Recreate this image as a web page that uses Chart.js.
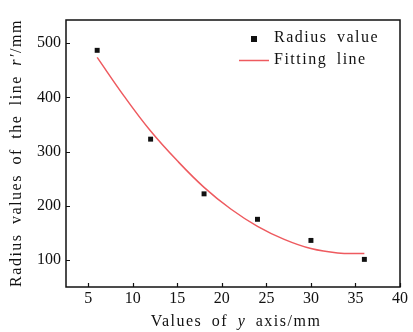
<!DOCTYPE html>
<html>
<head>
<meta charset="utf-8">
<script src="https://cdn.jsdelivr.net/npm/chart.js@4/dist/chart.umd.min.js"></script>
<style>
  html, body { margin: 0; padding: 0; background: #fff; }
  #wrap { width: 413px; height: 332px; }
</style>
</head>
<body>
<div id="wrap"><canvas id="chart"></canvas></div>
<script>
// ── Data ─────────────────────────────────────────────────────────────────────
const radiusX = [6, 12, 18, 24, 30, 36];
const radiusY = [487, 323, 222, 175, 136, 101];

const fitX = [6, 9, 12, 15, 18, 21, 24, 27, 30, 33, 36];
const fitY = [474, 403, 338, 283, 234, 194, 162, 138, 121, 113, 112];

const xTicks = [5, 10, 15, 20, 25, 30, 35, 40];
const yTicks = [100, 200, 300, 400, 500];

const FONT = '"Liberation Serif", "DejaVu Serif", serif';

// draws box, inward ticks, axis titles (mixed italic) and legend
const decor = {
  id: 'decor',
  afterDraw(chart) {
    const { ctx, chartArea: a, scales: { x, y } } = chart;
    ctx.save();
    ctx.strokeStyle = '#111';
    ctx.lineWidth = 1.5;
    ctx.strokeRect(a.left, a.top, a.right - a.left, a.bottom - a.top);

    ctx.lineWidth = 1.2;
    ctx.beginPath();
    xTicks.forEach(v => {
      const px = Math.round(x.getPixelForValue(v)) + 0.5;
      ctx.moveTo(px, a.bottom); ctx.lineTo(px, a.bottom - 4);
    });
    yTicks.forEach(v => {
      const py = Math.round(y.getPixelForValue(v)) + 0.5;
      ctx.moveTo(a.left, py); ctx.lineTo(a.left + 4, py);
    });
    ctx.stroke();

    ctx.letterSpacing = '1.5px';
    ctx.wordSpacing = '4px';

    // mixed-style text helper
    function drawParts(parts, cx, cy, align) {
      ctx.textBaseline = 'middle';
      ctx.textAlign = 'left';
      const w = parts.reduce((s, [t, it]) => {
        ctx.font = `${it ? 'italic ' : ''}16px ${FONT}`;
        return s + ctx.measureText(t).width;
      }, 0);
      let cur = align === 'left' ? cx : cx - w / 2;
      parts.forEach(([t, it]) => {
        ctx.font = `${it ? 'italic ' : ''}16px ${FONT}`;
        ctx.fillText(t, cur, cy);
        cur += ctx.measureText(t).width;
      });
    }

    ctx.fillStyle = '#111';
    drawParts([['Values of ', false], ['y', true], [' axis/mm', false]], 236, 322);

    ctx.save();
    ctx.translate(17, 153);
    ctx.rotate(-Math.PI / 2);
    drawParts([['Radius values of the line ', false], ['r\u2032', true], ['/mm', false]], 0, 0);
    ctx.restore();

    // legend
    const ds = chart.data.datasets;
    ctx.fillStyle = '#111';
    ctx.fillRect(251, 36, 6, 6);
    drawParts([[ds[0].label, false]], 274, 38, 'left');
    ctx.strokeStyle = ds[1].borderColor;
    ctx.lineWidth = 1.5;
    ctx.beginPath();
    ctx.moveTo(239, 60.5); ctx.lineTo(269, 60.5);
    ctx.stroke();
    drawParts([[ds[1].label, false]], 274, 60, 'left');
    ctx.restore();
  }
};

new Chart(document.getElementById('chart'), {
  type: 'scatter',
  data: {
    datasets: [
      {
        label: 'Radius value',
        data: radiusX.map((v, i) => ({ x: v, y: radiusY[i] })),
        pointStyle: 'rect',
        pointRadius: 3.5,
        backgroundColor: '#111',
        borderColor: '#111',
        borderWidth: 0,
        order: 1,
      },
      {
        label: 'Fitting line',
        data: fitX.map((v, i) => ({ x: v, y: fitY[i] })),
        showLine: true,
        borderColor: '#ee5a5f',
        borderWidth: 1.5,
        pointRadius: 0,
        tension: 0.4,
        fill: false,
        order: 2,
      },
    ],
  },
  options: {
    responsive: true,
    maintainAspectRatio: false,
    animation: false,
    layout: { padding: { top: 20, right: 13, left: 0, bottom: 0 } },
    plugins: { legend: { display: false }, tooltip: { enabled: false } },
    scales: {
      x: {
        type: 'linear',
        min: 2.5,
        max: 40,
        afterBuildTicks: s => { s.ticks = xTicks.map(v => ({ value: v })); },
        afterFit: s => { s.height = 45; },
        ticks: { color: '#111', font: { family: FONT, size: 16 }, padding: 2, maxRotation: 0 },
        grid: { display: true, drawOnChartArea: false, drawTicks: false },
        border: { display: false },
      },
      y: {
        min: 50,
        max: 543,
        afterBuildTicks: s => { s.ticks = yTicks.map(v => ({ value: v })); },
        afterFit: s => { s.width = 66; },
        ticks: { color: '#111', font: { family: FONT, size: 16 }, padding: 5 },
        grid: { display: true, drawOnChartArea: false, drawTicks: false },
        border: { display: false },
      },
    },
  },
  plugins: [decor],
});
</script>
</body>
</html>
